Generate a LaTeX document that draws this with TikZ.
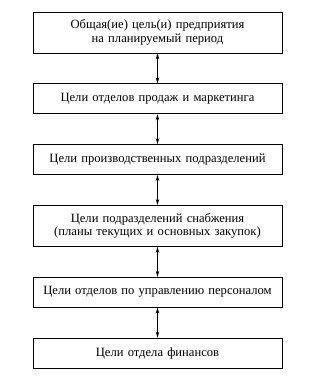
\documentclass[tikz,border=0pt]{standalone}
\usepackage{fontspec}
\setmainfont{Liberation Serif}
\usetikzlibrary{positioning, arrows.meta}

\begin{document}
\begin{tikzpicture}[
      x=1pt, y=1pt,
      node distance=30pt,
      goal/.style={rectangle, draw, line width=0.8pt, align=center, text width=240pt, minimum width=249pt, minimum height=30pt, inner sep=2pt, font=\rmfamily\fontsize{12.6}{13.5}\selectfont},
      goalbig/.style={goal, minimum height=41pt},
      link/.style={{Stealth[length=6pt, width=3.5pt]}-{Stealth[length=6pt, width=3.5pt]}, line width=0.8pt}
    ]
    \useasboundingbox (0,0) rectangle (311,-385);
    \node[goalbig] (company) at (157.5,-32.5) {Общая(ие) цель(и) предприятия\\на планируемый период};
    \node[goal, below=of company] (sales) {Цели отделов продаж и маркетинга};
    \node[goal, below=of sales] (production) {Цели производственных подразделений};
    \node[goalbig, below=of production] (supply) {Цели подразделений снабжения\\(планы текущих и основных закупок)};
    \node[goal, below=of supply] (staff) {Цели отделов по управлению персоналом};
    \node[goal, below=of staff] (finance) {Цели отдела финансов};

    \draw[link] (company) -- (sales);
    \draw[link] (sales) -- (production);
    \draw[link] (production) -- (supply);
    \draw[link] (supply) -- (staff);
    \draw[link] (staff) -- (finance);
  \end{tikzpicture}
\end{document}
